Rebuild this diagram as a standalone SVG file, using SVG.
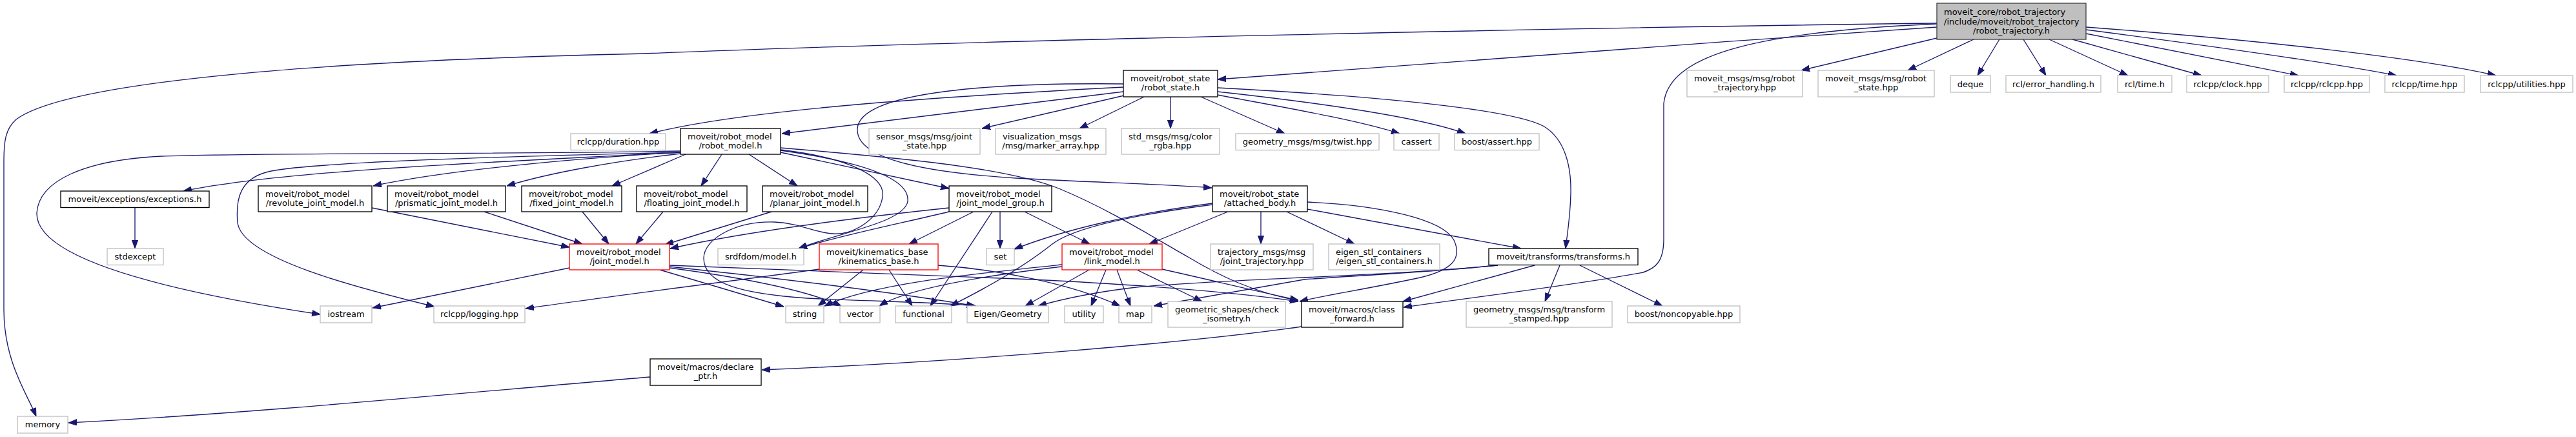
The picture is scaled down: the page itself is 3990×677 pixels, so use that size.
<svg xmlns="http://www.w3.org/2000/svg" width="3990" height="677" viewBox="0 0 3990 677">
<defs>
<marker id="a" markerWidth="13" markerHeight="10" refX="13" refY="5" orient="auto" markerUnits="userSpaceOnUse" viewBox="0 0 13 10"><path d="M0,0.4 L13,5 L0,9.6 z" fill="#191970" stroke="#191970" stroke-width="1"/></marker>
</defs>
<style>
.e path{fill:none;stroke:#191970;stroke-width:1.33;marker-end:url(#a)}
rect{fill:#fff;stroke-width:1.33}
.x rect{stroke:#bfbfbf}
.d rect{stroke:#000}
.r rect{stroke:#ff0000}
.root rect{fill:#bfbfbf;stroke:#404040}
text{font-family:"DejaVu Sans","Liberation Sans",sans-serif;font-size:13px;fill:#000}
.m{text-anchor:middle}
.s{text-anchor:start}
</style>
<rect x="0" y="0" width="3990" height="677" fill="#fff" stroke="none"/>
<g id="edges" class="e">
<path d="M3000,36 C2500,42 1500,62 1000,83 C450,95 100,130 25,185 C8,200 6,220 6,250 L6,480 C6,560 42,610 56,645"/>
<path d="M3000,42 C2600,68 2100,108 1886,123"/>
<path d="M3000,59 L2790,109"/>
<path d="M3057,61 L2955,109"/>
<path d="M3097,61 L3063,117"/>
<path d="M3134,61 L3169,117"/>
<path d="M3174,61 L3296,117"/>
<path d="M3210,61 L3410,117"/>
<path d="M3231,52 L3560,117"/>
<path d="M3231,46 C3400,68 3600,95 3712,117"/>
<path d="M3231,42 C3500,62 3750,90 3866,117"/>
<path d="M3000,37 C2700,50 2585,90 2577,160 L2577,370 C2577,405 2565,415 2545,422 C2450,440 2300,458 2174,476"/>
<path d="M1740,135 C1450,150 1150,170 1006,207"/>
<path d="M1740,142 L1211,207"/>
<path d="M1741,148 L1521,199"/>
<path d="M1772,150 L1672,199"/>
<path d="M1813,150 L1813,199"/>
<path d="M1860,150 L1990,207"/>
<path d="M1886,147 C1980,165 2100,185 2168,207"/>
<path d="M1886,142 C2050,160 2200,182 2270,207"/>
<path d="M1886,136 C2150,150 2340,170 2390,195 C2425,215 2434,260 2433,300 C2432,340 2427,365 2425,385"/>
<path d="M1740,130 C1550,128 1330,140 1328,200 C1326,250 1450,268 1574,276 C1700,283 1800,285 1877,291"/>
<path d="M1054,236 C800,250 450,262 284,296"/>
<path d="M1054,236 C900,245 700,262 578,288"/>
<path d="M1054,238 C950,250 850,268 785,288"/>
<path d="M1062,239 L948,288"/>
<path d="M1118,239 L1086,288"/>
<path d="M1160,239 L1235,288"/>
<path d="M1209,236 L1470,292"/>
<path d="M1054,234 C700,240 450,236 250,242 C130,248 60,280 57,330 C55,400 250,450 496,487"/>
<path d="M1054,236 C800,242 500,250 420,265 C370,275 365,310 368,345 C375,400 550,445 673,475"/>
<path d="M1209,233 C1330,250 1410,275 1406,312 C1400,345 1300,360 1237,385"/>
<path d="M1209,232 C1320,245 1372,275 1367,305 C1362,340 1320,365 1290,362 C1260,360 1240,346 1200,344 C1140,342 1090,370 1090,400 C1090,440 1150,455 1250,462 C1350,467 1450,468 1512,474"/>
<path d="M1209,229 C1400,245 1560,260 1640,292 C1720,325 1790,370 1840,398 C1890,428 1940,452 2011,466"/>
<path d="M1470,322 C1300,340 1150,360 1038,385"/>
<path d="M1470,328 C1400,345 1300,365 1237,385"/>
<path d="M1508,328 L1408,378"/>
<path d="M1537,328 L1441,474"/>
<path d="M1549,328 L1549,385"/>
<path d="M1587,328 L1688,378"/>
<path d="M1878,315 C1760,330 1650,355 1571,386"/>
<path d="M1878,317 C1740,335 1660,355 1630,378 C1590,410 1530,445 1472,474"/>
<path d="M1902,328 L1780,378"/>
<path d="M1953,328 L1953,378"/>
<path d="M1993,328 L2098,378"/>
<path d="M2025,324 L2356,385"/>
<path d="M2025,313 C2140,318 2235,340 2252,372 C2265,400 2250,418 2200,430 C2120,447 2050,458 2013,467"/>
<path d="M2320,411 C2150,428 1900,432 1760,445 C1700,452 1650,462 1608,474"/>
<path d="M2320,411 C2200,423 2080,428 2020,433 L1787,474"/>
<path d="M2377,411 L2173,467"/>
<path d="M2416,411 L2393,467"/>
<path d="M2447,411 L2575,474"/>
<path d="M882,415 L577,477"/>
<path d="M1022,418 L1214,475"/>
<path d="M1037,415 C1150,430 1250,450 1303,474"/>
<path d="M1037,413 C1200,430 1400,455 1510,474"/>
<path d="M1037,411 C1300,420 1500,428 1600,433 C1800,443 1930,455 2011,467"/>
<path d="M1269,417 C1100,440 950,458 814,478"/>
<path d="M1337,418 L1267,474"/>
<path d="M1377,418 L1413,474"/>
<path d="M1453,411 C1550,418 1660,440 1735,474"/>
<path d="M1645,410 C1500,425 1350,440 1277,474"/>
<path d="M1645,413 C1500,430 1400,450 1362,474"/>
<path d="M1687,418 L1588,474"/>
<path d="M1713,418 L1690,474"/>
<path d="M1730,418 L1751,474"/>
<path d="M1761,418 L1862,467"/>
<path d="M1800,417 C1880,435 1950,452 2011,465"/>
<path d="M209,321 L209,385"/>
<path d="M576,322 L882,383"/>
<path d="M750,328 L902,378"/>
<path d="M902,328 L943,378"/>
<path d="M1027,328 L985,378"/>
<path d="M1195,328 L1030,379"/>
<path d="M2016,506 C1850,530 1500,560 1180,573"/>
<path d="M1007,584 C700,610 400,640 106,655"/>
</g>
<g id="node_root" class="root"><rect x="3000" y="5" width="231" height="56"/><text class="s" x="3011" y="23">moveit_core/robot_trajectory</text><text class="s" x="3011" y="37.5">/include/moveit/robot_trajectory</text><text class="m" x="3115.5" y="52">/robot_trajectory.h</text></g>
<g id="node_robot_state" class="d"><rect x="1740" y="109" width="146" height="41"/><text class="s" x="1751" y="125.5">moveit/robot_state</text><text class="m" x="1813" y="140">/robot_state.h</text></g>
<g id="node_msg_traj" class="x"><rect x="2613" y="109" width="179" height="41"/><text class="s" x="2624" y="125.5">moveit_msgs/msg/robot</text><text class="m" x="2702.5" y="140">_trajectory.hpp</text></g>
<g id="node_msg_state" class="x"><rect x="2816" y="109" width="180" height="41"/><text class="s" x="2827" y="125.5">moveit_msgs/msg/robot</text><text class="m" x="2906" y="140">_state.hpp</text></g>
<g id="node_deque" class="x"><rect x="3021" y="117" width="62" height="26"/><text class="m" x="3052" y="134.5">deque</text></g>
<g id="node_rcl_err" class="x"><rect x="3107" y="117" width="147" height="26"/><text class="m" x="3180.5" y="134.5">rcl/error_handling.h</text></g>
<g id="node_rcl_time" class="x"><rect x="3280" y="117" width="84" height="26"/><text class="m" x="3322" y="134.5">rcl/time.h</text></g>
<g id="node_clock" class="x"><rect x="3387" y="117" width="127" height="26"/><text class="m" x="3450.5" y="134.5">rclcpp/clock.hpp</text></g>
<g id="node_rclcpp" class="x"><rect x="3538" y="117" width="132" height="26"/><text class="m" x="3604" y="134.5">rclcpp/rclcpp.hpp</text></g>
<g id="node_rclcpp_time" class="x"><rect x="3694" y="117" width="123" height="26"/><text class="m" x="3755.5" y="134.5">rclcpp/time.hpp</text></g>
<g id="node_utilities" class="x"><rect x="3842" y="117" width="143" height="26"/><text class="m" x="3913.5" y="134.5">rclcpp/utilities.hpp</text></g>
<g id="node_duration" class="x"><rect x="884" y="207" width="147" height="25.5"/><text class="m" x="957.5" y="224">rclcpp/duration.hpp</text></g>
<g id="node_robot_model" class="d"><rect x="1054" y="199" width="155" height="40"/><text class="s" x="1065" y="215.5">moveit/robot_model</text><text class="m" x="1131.5" y="230">/robot_model.h</text></g>
<g id="node_joint_state" class="x"><rect x="1346" y="199" width="172" height="40"/><text class="s" x="1357" y="215.5">sensor_msgs/msg/joint</text><text class="m" x="1432" y="230">_state.hpp</text></g>
<g id="node_marker" class="x"><rect x="1542" y="199" width="171" height="40"/><text class="s" x="1553" y="215.5">visualization_msgs</text><text class="m" x="1627.5" y="230">/msg/marker_array.hpp</text></g>
<g id="node_color" class="x"><rect x="1737" y="199" width="152" height="40"/><text class="s" x="1748" y="215.5">std_msgs/msg/color</text><text class="m" x="1813" y="230">_rgba.hpp</text></g>
<g id="node_twist" class="x"><rect x="1914" y="207" width="222" height="25.5"/><text class="m" x="2025" y="224">geometry_msgs/msg/twist.hpp</text></g>
<g id="node_cassert" class="x"><rect x="2159" y="207" width="70" height="25.5"/><text class="m" x="2194" y="224">cassert</text></g>
<g id="node_boost_assert" class="x"><rect x="2253" y="207" width="131" height="25.5"/><text class="m" x="2318.5" y="224">boost/assert.hpp</text></g>
<g id="node_exceptions" class="d"><rect x="94" y="296" width="230" height="25.5"/><text class="m" x="209" y="313">moveit/exceptions/exceptions.h</text></g>
<g id="node_revolute" class="d"><rect x="400" y="288" width="176" height="40"/><text class="s" x="411" y="304.5">moveit/robot_model</text><text class="m" x="488" y="319">/revolute_joint_model.h</text></g>
<g id="node_prismatic" class="d"><rect x="600" y="288" width="183" height="40"/><text class="s" x="611" y="304.5">moveit/robot_model</text><text class="m" x="691.5" y="319">/prismatic_joint_model.h</text></g>
<g id="node_fixed" class="d"><rect x="808" y="288" width="155" height="40"/><text class="s" x="819" y="304.5">moveit/robot_model</text><text class="m" x="885.5" y="319">/fixed_joint_model.h</text></g>
<g id="node_floating" class="d"><rect x="986" y="288" width="171" height="40"/><text class="s" x="997" y="304.5">moveit/robot_model</text><text class="m" x="1071.5" y="319">/floating_joint_model.h</text></g>
<g id="node_planar" class="d"><rect x="1181" y="288" width="163" height="40"/><text class="s" x="1192" y="304.5">moveit/robot_model</text><text class="m" x="1262.5" y="319">/planar_joint_model.h</text></g>
<g id="node_jmg" class="d"><rect x="1470" y="288" width="159" height="40"/><text class="s" x="1481" y="304.5">moveit/robot_model</text><text class="m" x="1549.5" y="319">/joint_model_group.h</text></g>
<g id="node_attached" class="d"><rect x="1878" y="288" width="147" height="40"/><text class="s" x="1889" y="304.5">moveit/robot_state</text><text class="m" x="1951.5" y="319">/attached_body.h</text></g>
<g id="node_stdexcept" class="x"><rect x="166" y="385" width="87" height="25.5"/><text class="m" x="209.5" y="402">stdexcept</text></g>
<g id="node_joint_model" class="r"><rect x="882" y="378" width="155" height="40"/><text class="s" x="893" y="394.5">moveit/robot_model</text><text class="m" x="959.5" y="409">/joint_model.h</text></g>
<g id="node_srdf" class="x"><rect x="1112" y="385" width="133" height="25.5"/><text class="m" x="1178.5" y="402">srdfdom/model.h</text></g>
<g id="node_kin" class="r"><rect x="1269" y="378" width="184" height="40"/><text class="s" x="1280" y="394.5">moveit/kinematics_base</text><text class="m" x="1361" y="409">/kinematics_base.h</text></g>
<g id="node_set" class="x"><rect x="1528" y="385" width="43" height="25.5"/><text class="m" x="1549.5" y="402">set</text></g>
<g id="node_link" class="r"><rect x="1645" y="378" width="155" height="40"/><text class="s" x="1656" y="394.5">moveit/robot_model</text><text class="m" x="1722.5" y="409">/link_model.h</text></g>
<g id="node_traj" class="x"><rect x="1875" y="378" width="159" height="40"/><text class="s" x="1886" y="394.5">trajectory_msgs/msg</text><text class="m" x="1954.5" y="409">/joint_trajectory.hpp</text></g>
<g id="node_eigen_stl" class="x"><rect x="2058" y="378" width="172" height="40"/><text class="s" x="2069" y="394.5">eigen_stl_containers</text><text class="m" x="2144" y="409">/eigen_stl_containers.h</text></g>
<g id="node_transforms" class="d"><rect x="2306" y="385" width="231" height="25.5"/><text class="m" x="2421.5" y="402">moveit/transforms/transforms.h</text></g>
<g id="node_iostream" class="x"><rect x="496" y="474" width="80" height="26"/><text class="m" x="536" y="491">iostream</text></g>
<g id="node_logging" class="x"><rect x="672" y="474" width="141" height="26"/><text class="m" x="742.5" y="491">rclcpp/logging.hpp</text></g>
<g id="node_string" class="x"><rect x="1217" y="474" width="59" height="26"/><text class="m" x="1246.5" y="491">string</text></g>
<g id="node_vector" class="x"><rect x="1301" y="474" width="62" height="26"/><text class="m" x="1332" y="491">vector</text></g>
<g id="node_functional" class="x"><rect x="1387" y="474" width="87" height="26"/><text class="m" x="1430.5" y="491">functional</text></g>
<g id="node_eigen" class="x"><rect x="1498" y="474" width="126" height="26"/><text class="m" x="1561" y="491">Eigen/Geometry</text></g>
<g id="node_utility" class="x"><rect x="1649" y="474" width="60" height="26"/><text class="m" x="1679" y="491">utility</text></g>
<g id="node_map" class="x"><rect x="1733" y="474" width="51" height="26"/><text class="m" x="1758.5" y="491">map</text></g>
<g id="node_check_iso" class="x"><rect x="1809" y="467" width="182" height="40"/><text class="s" x="1820" y="483.5">geometric_shapes/check</text><text class="m" x="1900" y="498">_isometry.h</text></g>
<g id="node_class_fwd" class="d"><rect x="2016" y="467" width="157" height="40"/><text class="s" x="2027" y="483.5">moveit/macros/class</text><text class="m" x="2094.5" y="498">_forward.h</text></g>
<g id="node_tf_stamped" class="x"><rect x="2271" y="467" width="226" height="40"/><text class="s" x="2282" y="483.5">geometry_msgs/msg/transform</text><text class="m" x="2384" y="498">_stamped.hpp</text></g>
<g id="node_noncopyable" class="x"><rect x="2521" y="474" width="174" height="26"/><text class="m" x="2608" y="491">boost/noncopyable.hpp</text></g>
<g id="node_declare_ptr" class="d"><rect x="1007" y="556" width="172" height="41"/><text class="s" x="1018" y="572.5">moveit/macros/declare</text><text class="m" x="1093" y="587">_ptr.h</text></g>
<g id="node_memory" class="x"><rect x="27" y="645" width="78" height="26"/><text class="m" x="66" y="662">memory</text></g>
</svg>
